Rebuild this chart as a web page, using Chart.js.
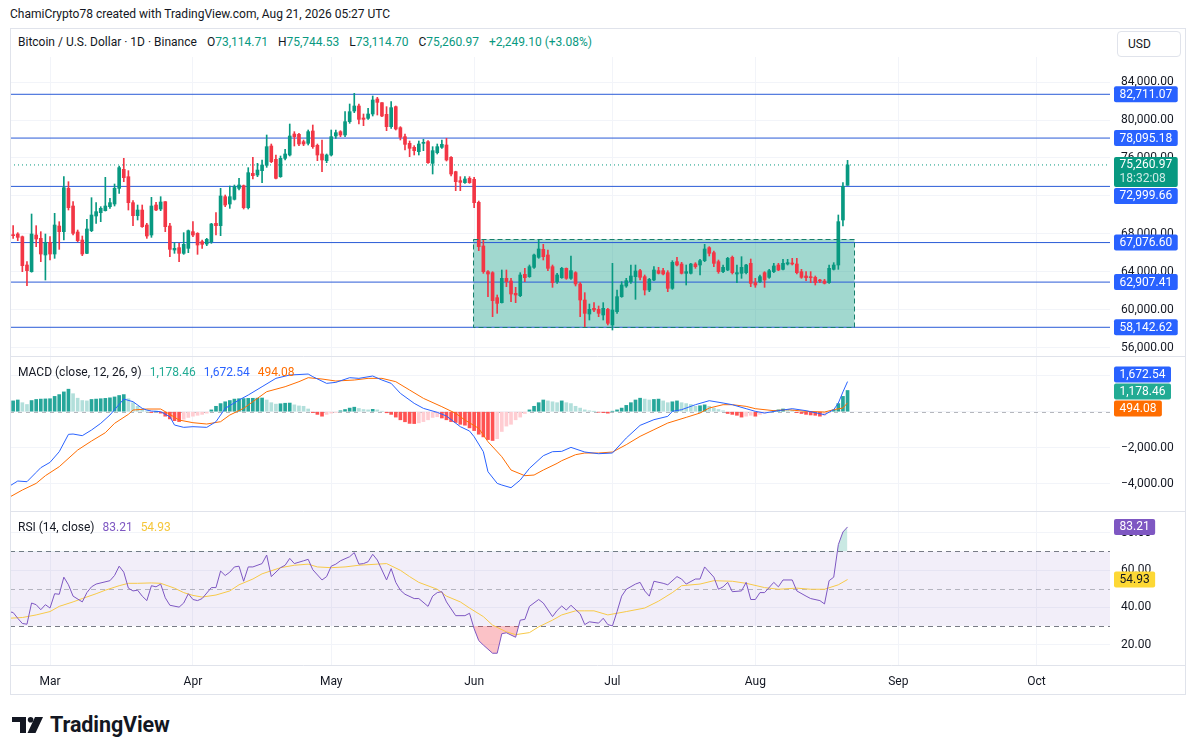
<!DOCTYPE html>
<html>
<head>
<meta charset="utf-8">
<script src="https://cdn.jsdelivr.net/npm/chart.js@4.4.1/dist/chart.umd.min.js"></script>
<style>
  html, body { margin: 0; padding: 0; background: #fff; }
  body { width: 1195px; height: 755px; position: relative; overflow: hidden;
         font-family: Roboto, 'Liberation Sans', sans-serif; color: #131722; }
  .txt { position: absolute; white-space: nowrap; font-size: 12px; line-height: 16px; }
  .txt span { margin-left: 8px; }
  #ohlc span { margin-left: 10px; }
  .g { color: #089981; }
  #frame { position: absolute; left: 10px; top: 28px; width: 1176px; height: 667px;
           box-sizing: border-box; border: 1px solid #e0e3eb; pointer-events: none; }
  #chart { position: absolute; left: 10px; top: 57px; }
  #usd { position: absolute; left: 1117px; top: 31px; width: 64px; height: 26px; box-sizing: border-box;
         border: 1px solid #e0e3eb; border-radius: 4px; font-size: 12px; line-height: 24px; padding-left: 10px; }
  #logo { position: absolute; left: 12px; top: 714px; display: flex; align-items: center; }
  #logo b { font-size: 21.5px; font-weight: 700; margin-left: 7px; letter-spacing: -0.1px; line-height: 22px; }
</style>
</head>
<body>
<div class="txt" style="left:10px;top:6px">ChamiCrypto78 created with TradingView.com, Aug 21, 2026 05:27 UTC</div>
<div class="txt" id="ohlc" style="left:18px;top:34px">Bitcoin / U.S. Dollar · 1D · Binance<span>O<i class="g" style="font-style:normal">73,114.71</i></span><span>H<i class="g" style="font-style:normal">75,744.53</i></span><span>L<i class="g" style="font-style:normal">73,114.70</i></span><span>C<i class="g" style="font-style:normal">75,260.97</i></span><span class="g">+2,249.10 (+3.08%)</span></div>
<div id="usd">USD</div>
<canvas id="chart" width="1175" height="638"></canvas>
<div class="txt" style="left:18px;top:364px">MACD (close, 12, 26, 9)<span style="color:#22ab94">1,178.46</span><span style="color:#2962ff">1,672.54</span><span style="color:#ff6d00">494.08</span></div>
<div class="txt" style="left:18px;top:519px">RSI (14, close)<span style="color:#7e57c2">83.21</span><span style="color:#f5c63a">54.93</span></div>
<div id="frame"></div>
<div id="logo">
  <svg width="31" height="16" viewBox="0 0 31 16"><path d="M0 0H14V16H8V5H0Z" fill="#131722"/><circle cx="18.6" cy="2.8" r="2.8" fill="#131722"/><path d="M23 0H31L23.5 16H15.5Z" fill="#131722"/></svg>
  <b>TradingView</b>
</div>
<script>
// daily candles, first one is Feb 21 2026; day numbers are counted from Mar 1
const firstDay = -8
const opens = [
  67873,67979,67697,64710,64007,67873,67522,65765,67100,65870,
  68822,68225,72794,70931,68190,67346,65940,68330,69877,70228,
  70439,70861,71142,72794,74798,74024,71283,69912,70509,68928,
  67873,71037,70615,71388,68822,66292,66538,65940,66467,68225,
  68049,67170,66924,67170,69103,68858,71915,71142,71634,72794,
  73076,70755,74376,74200,74657,75220,77258,75852,74024,75958,
  76309,78524,78488,77715,77540,78840,77329,76415,75712,76309,
  78313,78770,78418,79824,80949,81476,80211,80176,80633,82214,
  81828,80597,79297,81406,79192,78243,77540,77118,76661,77540,
  77715,75431,76555,77118,77364,76063,74552,73603,73392,73849,
  73743,71318,66715,64008,63903,61267,60740,63305,63024,61723,
  61478,63727,63481,64465,65520,66363,65766,64536,62954,63375,
  64360,63305,63903,62708,61021,59545,60142,60037,59439,60037,
  58386,59791,61372,62497,62954,63481,64114,63481,62075,63129,
  64114,64114,63903,62251,65063,64817,63833,63833,64817,64711,
  65168,66539,66012,65063,64008,64184,65520,63762,63833,63903,
  64887,62848,62954,63903,63411,64008,64711,64254,64817,64887,
  64817,64008,63551,63481,63411,63129,63024,62848,64254,64711,
  69457,73114.71]
const highs = [
  68858,68119,67768,65061,70088,68858,68225,67979,67697,70158,
  69279,74024,73497,71388,68400,67768,69525,71810,71283,70861,
  73954,71740,73251,75149,75958,74657,71494,71037,71037,69103,
  71845,71318,71915,71400,69103,67065,66995,68119,68400,69279,
  68119,67346,67522,69103,70228,72794,72091,73041,73146,73849,
  73146,74974,76063,75431,75782,78418,77469,76309,76204,76907,
  79578,78770,78594,77891,78946,79473,77469,77891,76415,78946,
  78946,78875,80879,81687,82812,81687,80633,81230,82531,82390,
  81850,81406,81933,81476,79297,78524,77786,77294,77786,77961,
  77821,77188,77469,77891,78067,76134,74600,74024,74024,74024,
  73954,71459,67348,64114,64008,61548,64184,64184,63305,62356,
  63903,64360,64711,65871,67348,66891,66293,64711,63833,64465,
  64400,65660,64008,62848,61794,60599,60740,60388,60740,60142,
  64887,62075,62954,63305,64711,64711,64254,63657,63305,64536,
  64465,64360,64114,65168,65520,64993,64711,64887,64957,65309,
  66891,66644,66188,65239,64711,65520,65660,64711,65590,64781,
  65344,63305,63657,64008,64254,64887,64887,65309,65309,65414,
  65414,64254,64008,64008,63551,63200,63200,64711,64957,69984,
  73393,75744.53]
const lows = [
  67522,67276,64007,62531,63950,66643,65061,63128,65237,65413,
  66362,67346,70509,67873,67170,65694,65900,68225,69103,69279,
  70400,70685,70931,72267,73497,70509,68858,69455,68682,67522,
  67627,70439,70439,68225,65589,65940,65061,65835,66011,67697,
  65835,66467,66749,66995,67873,67803,70861,70685,71564,72618,
  70615,70615,73779,74024,73392,75009,75501,73779,73954,75782,
  76204,77258,77294,77294,77364,77012,75712,74552,75501,76204,
  78067,78243,78243,79649,80773,79578,79402,80070,80422,80527,
  80352,78875,79121,78946,77891,76837,76134,76309,76309,76766,
  75431,74306,76415,77012,75677,74095,72548,72548,73322,73322,
  70755,66221,63833,61372,59263,59615,60700,62427,60845,60740,
  61372,62954,63411,64360,65414,65239,64114,62356,62778,63305,
  63200,63200,62497,59263,58210,58912,59791,59263,58912,58386,
  57857,59615,61302,62356,62778,61091,63129,61548,61899,63059,
  63762,63657,61899,62145,64606,63762,62602,63762,64360,63657,
  65063,65660,64536,63833,63903,64114,63762,62848,63305,63762,
  62427,62356,62848,62356,63305,63903,64114,64184,64711,64711,
  63762,63305,63059,62848,62602,62848,62708,62778,64184,64254,
  68824,73114.70]
const closes = [
  67803,67627,64640,64112,67979,67452,65870,67065,65870,68928,
  68225,72865,70755,68049,67276,65870,68506,69982,70334,70685,
  70931,71283,72794,74974,73919,71283,69912,70509,68752,67768,
  70931,70509,71353,68752,66362,66467,65940,66889,68330,67873,
  66819,66889,67416,69033,68858,71986,71037,71915,72970,73146,
  70755,74446,74130,74728,75255,77188,75606,73849,75958,76415,
  78313,78243,77469,77469,78770,77188,76309,75782,76309,78243,
  78664,78418,79824,80879,81476,80070,80070,80633,82109,81863,
  80422,79297,81301,79051,78172,77434,77012,76766,77469,77645,
  75501,76766,77188,77434,75782,74306,73497,73427,73779,73392,
  71283,66643,64008,63762,60950,60669,63305,62954,61653,61548,
  63657,63375,64536,65766,66399,65590,64360,62848,63657,64360,
  63305,64114,62708,61021,59615,60037,59966,59615,60142,58561,
  59966,61372,62602,63059,63551,64078,63411,62075,63200,64184,
  63833,63762,62251,64993,64711,63833,64008,64817,64536,65168,
  66399,65942,64887,64008,64465,65414,63903,63903,64465,64711,
  62778,62602,63481,63129,64114,64606,64184,64887,64957,64817,
  63903,63411,63375,63375,62848,63024,62778,64360,64711,69281,
  73011.87,75260.97]

// drawn horizontal levels and the range rectangle
const levels = [82711.07, 78095.18, 72999.66, 67076.60, 62907.41, 58142.62]
const lastPrice = 75260.97
const lastTime = '18:32:08'
const boxDays = [91.85, 174.5]
const boxPrices = [67420, 58142.62]

// MACD (12, 26, 9): histogram per candle, lines read at the listed days
const macdHist = [
  600,650,500,400,620,680,700,710,720,850,
  950,1100,1250,1000,750,620,600,680,700,720,
  740,770,820,900,950,720,500,300,150,50,
  -50,20,-80,-250,-400,-500,-550,-420,-320,-250,
  -200,-150,-80,100,300,450,550,620,700,720,
  730,740,745,750,760,650,500,420,440,470,
  480,380,320,300,150,-50,-150,-250,-150,-80,
  -40,50,120,200,250,180,120,100,130,100,
  20,-60,-150,-300,-450,-560,-650,-660,-620,-550,
  -450,-320,-280,-350,-450,-550,-600,-700,-750,-900,
  -1050,-1250,-1400,-1550,-1600,-1500,-1100,-800,-700,-450,
  -300,-100,100,300,500,650,600,550,500,600,
  500,450,300,200,100,50,10,-30,-50,-80,
  20,100,200,350,500,650,750,700,650,680,
  700,600,500,550,600,500,450,400,300,330,
  380,300,200,120,50,-100,-150,-200,-300,-250,
  -200,-250,-150,-80,-30,60,100,150,120,80,
  -50,-100,-150,-180,-200,-250,-200,-60,100,450,
  850,1178.46]
const macdDays = [-9,-7,-5,-3,-2,0,2,4,5,7,9,11,13,15,16,18,20,21,22,24,26,27,29,31,34,36,38,41,43,46,
  49,52,56,57,60,62,65,67,70,72,74,76,79,81,84,86,89,91,92,94,95,97,98,100,102,104,107,109,111,113,
  116,119,122,125,128,131,134,135,137,140,143,146,148,151,153,155,158,161,164,168,170,171,172,173]
const macdLine = [-4167,-3852,-3889,-3371,-3111,-2815,-2222,-1259,-1241,-1333,-1019,-648,-185,407,704,556,185,93,37,0,
  -278,-741,-870,-833,-870,-556,185,648,926,1389,1852,2037,2093,1945,1574,1630,1889,1852,1982,1759,
  1574,1019,463,185,-37,-241,-833,-1074,-1389,-2222,-3334,-3982,-4074,-4223,-3797,-3148,-2445,-2222,-2204,-1982,
  -2241,-2334,-2296,-1463,-759,-444,-259,19,111,389,611,482,389,167,19,-74,56,167,56,-167,
  111,480,1100,1672.54]
const signalDays = [-9,-6,-3,-1,2,6,9,12,14,17,18,21,24,26,28,31,34,37,39,42,44,47,51,54,56,59,62,66,69,72,
  75,78,81,85,88,90,93,95,98,100,103,105,107,110,111,114,116,119,122,125,128,131,134,138,141,143,146,148,151,153,
  157,160,164,168,170,172,173]
const signalLine = [-4778,-4352,-3982,-3556,-3056,-2130,-1630,-1167,-648,-148,93,148,148,-148,-463,-611,-685,-556,-185,185,
  556,1111,1389,1667,1889,1815,1704,1759,1852,1852,1667,1204,741,278,-93,-463,-926,-1667,-2500,-3241,
  -3556,-3519,-3241,-2871,-2722,-2389,-2296,-2296,-2241,-1833,-1370,-1000,-630,-315,-74,204,389,389,296,167,
  56,111,19,-19,111,204,494.08]

// RSI (14) and its moving average
const rsiDays = [-9,-8,-7,-6,-5,-4,-3,-2,-1,0,1,2,3,4,5,7,8,9,10,13,14,15,16,17,18,19,20,21,22,23,
  24,25,26,28,29,30,31,32,33,35,36,37,38,39,40,41,42,43,44,46,47,48,50,51,52,53,55,56,57,59,
  60,61,62,63,65,66,67,68,69,70,71,73,74,75,76,77,79,80,82,83,84,85,86,88,90,91,92,93,94,96,
  97,98,99,101,102,103,104,106,107,109,110,111,112,113,115,116,117,119,120,121,122,123,124,125,127,128,129,130,131,133,
  134,136,137,138,140,141,142,144,145,146,147,148,150,151,152,153,154,155,157,158,159,161,162,164,165,167,168,169,170,171,
  172,173]
const rsiLine = [37.7,37.2,34.1,31.3,30.9,42.3,41.4,38.7,41.4,39.6,47.3,47.0,56.2,52.1,46.0,42.9,47.9,51.0,52.5,54.3,57.1,62.1,58.9,50.3,48.8,49.2,46.0,43.6,51.6,51.0,
  52.5,45.1,41.1,40.1,42.3,47.3,44.2,43.6,44.7,50.6,50.6,59.5,57.1,58.9,61.7,62.1,54.0,61.7,61.7,63.5,68.1,56.5,61.3,62.6,66.3,63.5,65.0,65.8,60.2,54.7,
  56.5,62.1,63.2,65.0,67.2,69.4,63.2,63.5,64.5,68.5,65.4,54.7,60.8,53.4,49.2,47.0,44.7,44.7,40.5,46.0,47.9,48.4,42.9,35.5,35.5,36.8,28.5,22.1,19.7,15.3,
  15.3,25.8,26.3,23.9,33.1,33.5,40.5,44.2,42.3,35.0,38.3,40.7,38.5,41.1,36.5,30.7,32.2,31.5,34.1,30.7,30.0,37.7,46.0,49.7,52.5,53.4,48.8,46.0,54.0,52.9,
  52.1,56.5,55.2,52.5,55.2,55.2,61.7,56.2,49.7,51.0,53.4,48.4,48.8,53.4,44.2,44.2,47.9,47.9,53.4,51.0,54.7,54.7,48.8,46.0,44.7,43.6,41.8,54.3,56.2,73.7,
  80.5,83.21]
const rsiMaDays = [-9,-6,-3,0,2,5,7,10,12,15,17,19,22,24,27,29,31,33,36,39,41,44,46,50,53,56,58,61,64,67,
  71,73,76,78,80,84,86,89,91,94,96,99,101,104,106,109,111,114,116,118,121,125,129,132,135,137,141,144,148,151,
  155,158,162,165,168,171,173]
const rsiMa = [34.1,34.5,35.9,37.7,40.5,42.9,44.7,47.3,49.2,51.6,52.9,52.9,53.1,52.9,50.3,47.9,46.4,45.5,46.6,48.8,52.1,55.2,58.0,61.3,62.6,63.2,61.7,61.3,61.7,62.6,
  63.2,63.5,59.9,56.5,53.4,49.7,46.0,42.9,39.6,35.0,30.4,26.8,25.3,26.4,29.5,33.1,35.9,38.1,38.1,38.1,35.9,37.7,39.6,43.3,47.9,51.6,52.5,54.3,54.0,52.9,
  50.6,49.7,50.3,49.7,49.7,52.1,54.93]

// axis labels
const monthStarts = [0, 31, 61, 92, 122, 153, 184, 214]
const monthNames = ['Mar', 'Apr', 'May', 'Jun', 'Jul', 'Aug', 'Sep', 'Oct']
const priceTicks = [56000, 60000, 64000, 68000, 72000, 76000, 80000, 84000]
const macdTicks = [2000, 0, -2000, -4000]
const rsiTicks = [20, 40, 60, 80]

const UP = '#089981', DOWN = '#f23645'
const X_MIN = -8.68, X_MAX = 229.93

Chart.defaults.font.family = 'Roboto'
Chart.defaults.font.size = 12
Chart.defaults.color = '#131722'

const days = opens.map((o, i) => firstDay + i)
const candleColors = opens.map((o, i) => closes[i] >= o ? UP : DOWN)
const pts = (xs, ys) => xs.map((x, i) => ({x: x, y: ys[i]}))
const histColors = macdHist.map((v, i) => {
  const prev = i ? macdHist[i - 1] : v
  if (v >= 0) return v >= prev ? '#26a69a' : '#b2dfdb'
  return v <= prev ? '#ff5252' : '#ffcdd2'
})
const fmt2 = v => v.toLocaleString('en-US', {minimumFractionDigits: 2, maximumFractionDigits: 2}).replace('-', '\u2212')

const datasets = [
  {type: 'bar', data: days.map((d, i) => ({x: d, y: [lows[i], highs[i]]})), backgroundColor: candleColors,
    barThickness: 1, grouped: false, yAxisID: 'yPrice', order: 1},
  {type: 'bar', data: days.map((d, i) => ({x: d, y: [opens[i], closes[i]]})), backgroundColor: candleColors,
    barThickness: 3, minBarLength: 1, grouped: false, yAxisID: 'yPrice', order: 0},
  {type: 'line', data: [{x: X_MIN, y: lastPrice}, {x: X_MAX, y: lastPrice}], borderColor: UP, borderWidth: 1,
    borderDash: [1, 3], pointRadius: 0, yAxisID: 'yPrice', order: 5},
  {type: 'bar', data: days.map((d, i) => ({x: d, y: macdHist[i]})), backgroundColor: histColors,
    barThickness: 3, grouped: false, yAxisID: 'yMacd', order: 2},
  {type: 'line', data: pts(signalDays, signalLine), borderColor: '#ff6d00', borderWidth: 1, pointRadius: 0, yAxisID: 'yMacd', order: 1},
  {type: 'line', data: pts(macdDays, macdLine), borderColor: '#2962ff', borderWidth: 1, pointRadius: 0, yAxisID: 'yMacd', order: 0},
  {type: 'line', data: pts(rsiDays, rsiLine), borderWidth: 0, pointRadius: 0, yAxisID: 'yRsi', order: 4,
    fill: {target: {value: 30}, above: 'rgba(0,0,0,0)', below: 'rgba(242,54,69,0.3)'}},
  {type: 'line', data: pts(rsiDays, rsiLine), borderWidth: 0, pointRadius: 0, yAxisID: 'yRsi', order: 4,
    fill: {target: {value: 70}, above: 'rgba(8,153,129,0.22)', below: 'rgba(0,0,0,0)'}},
  {type: 'line', data: pts(rsiMaDays, rsiMa), borderColor: '#f7c948', borderWidth: 1, pointRadius: 0, yAxisID: 'yRsi', order: 1},
  {type: 'line', data: pts(rsiDays, rsiLine), borderColor: '#7e57c2', borderWidth: 1, pointRadius: 0, yAxisID: 'yRsi', order: 0}
]
levels.forEach(l => datasets.push({type: 'line', data: [{x: X_MIN, y: l}, {x: X_MAX, y: l}],
  borderColor: '#2a5bd7', borderWidth: 1, pointRadius: 0, yAxisID: 'yPrice', order: 6}))

// no label overflow padding: the panes must fill the canvas exactly
function noPad(a) { a.paddingTop = 0; a.paddingBottom = 0; a.paddingLeft = 0; a.paddingRight = 0 }

function yAxis(weight, min, max, ticks) {
  return {
    type: 'linear', position: 'right', stack: 'panes', stackWeight: weight, min: min, max: max,
    afterBuildTicks: a => { a.ticks = ticks.map(v => ({value: v})) },
    afterFit: a => { a.width = 75; noPad(a) },
    ticks: {callback: v => fmt2(v), padding: 11, crossAlign: 'near'},
    grid: {color: '#f2f4f9', drawTicks: false},
    border: {display: false}
  }
}

function drawTags(ctx, tags, left, centered) {
  ctx.font = '12px Roboto'
  tags.forEach(t => { t.h = t.lines.length > 1 ? 30 : 16; t.top = t.y - 8 })
  tags.sort((a, b) => a.top - b.top)
  if (centered) {
    const total = tags.reduce((s, t) => s + t.h + 1, -1)
    let top = tags.reduce((s, t) => s + t.y, 0) / tags.length - total / 2
    tags.forEach(t => { t.top = top; top += t.h + 1 })
  } else {
    for (let i = 1; i < tags.length; i++) {
      const p = tags[i - 1]
      if (tags[i].top < p.top + p.h + 1) tags[i].top = p.top + p.h + 1
    }
  }
  tags.forEach(t => {
    const w = Math.max(...t.lines.map(s => ctx.measureText(s).width)) + 11
    ctx.fillStyle = t.bg
    ctx.beginPath()
    ctx.roundRect(left, t.top, w, t.h, 2)
    ctx.fill()
    ctx.textBaseline = 'middle'
    ctx.textAlign = 'left'
    t.lines.forEach((s, k) => {
      ctx.fillStyle = k ? 'rgba(255,255,255,0.8)' : t.fg
      ctx.fillText(s, left + 5.5, t.top + 8.5 + k * 14)
    })
  })
}

const overlay = {
  id: 'overlay',
  beforeDatasetsDraw(chart) {
    const {ctx, chartArea: a, scales: s} = chart
    ctx.save()
    const bx1 = s.x.getPixelForValue(boxDays[0]), bx2 = s.x.getPixelForValue(boxDays[1])
    const by1 = s.yPrice.getPixelForValue(boxPrices[0]), by2 = s.yPrice.getPixelForValue(boxPrices[1])
    ctx.fillStyle = 'rgba(8,153,129,0.38)'
    ctx.fillRect(bx1, by1, bx2 - bx1, by2 - by1)

    const r70 = s.yRsi.getPixelForValue(70), r50 = s.yRsi.getPixelForValue(50), r30 = s.yRsi.getPixelForValue(30)
    ctx.fillStyle = 'rgba(126,87,194,0.1)'
    ctx.fillRect(a.left, r70, a.width, r30 - r70)
    ctx.lineWidth = 1
    ctx.setLineDash([5, 4])
    ctx.strokeStyle = '#787b86'
    ;[r70, r30].forEach(y => { ctx.beginPath(); ctx.moveTo(a.left, Math.round(y) + 0.5); ctx.lineTo(a.right, Math.round(y) + 0.5); ctx.stroke() })
    ctx.strokeStyle = 'rgba(120,123,134,0.5)'
    ctx.beginPath(); ctx.moveTo(a.left, Math.round(r50) + 0.5); ctx.lineTo(a.right, Math.round(r50) + 0.5); ctx.stroke()
    const z = Math.round(s.yMacd.getPixelForValue(0)) + 0.5
    ctx.setLineDash([4, 4])
    ctx.strokeStyle = 'rgba(120,123,134,0.55)'
    ctx.beginPath(); ctx.moveTo(a.left, z); ctx.lineTo(a.right, z); ctx.stroke()
    ctx.restore()
  },
  afterDatasetsDraw(chart) {
    const {ctx, scales: s} = chart
    const bx1 = s.x.getPixelForValue(boxDays[0]), bx2 = s.x.getPixelForValue(boxDays[1])
    const by1 = s.yPrice.getPixelForValue(boxPrices[0]), by2 = s.yPrice.getPixelForValue(boxPrices[1])
    ctx.save()
    ctx.setLineDash([5, 3])
    ctx.strokeStyle = '#16806d'
    ctx.lineWidth = 1
    ctx.strokeRect(Math.round(bx1) + 0.5, Math.round(by1) + 0.5, Math.round(bx2 - bx1), Math.round(by2 - by1))
    ctx.restore()
  },
  afterDraw(chart) {
    const {ctx, chartArea: a, scales: s, width} = chart
    ctx.save()
    ctx.strokeStyle = '#e0e3eb'
    ctx.lineWidth = 1
    ;[s.yPrice.bottom, s.yMacd.bottom, s.yRsi.bottom].forEach(y => {
      ctx.beginPath(); ctx.moveTo(0, Math.round(y) + 0.5); ctx.lineTo(width, Math.round(y) + 0.5); ctx.stroke()
    })
    const left = a.right + 4
    const priceTags = levels.map(l => ({y: s.yPrice.getPixelForValue(l), lines: [fmt2(l)], bg: '#2962ff', fg: '#fff'}))
    priceTags.push({y: s.yPrice.getPixelForValue(lastPrice), lines: [fmt2(lastPrice), lastTime], bg: UP, fg: '#fff'})
    drawTags(ctx, priceTags, left, false)
    const m = macdLine.length - 1, g = signalLine.length - 1, h = macdHist.length - 1
    drawTags(ctx, [
      {y: s.yMacd.getPixelForValue(macdLine[m]), lines: [fmt2(macdLine[m])], bg: '#2962ff', fg: '#fff'},
      {y: s.yMacd.getPixelForValue(macdHist[h]), lines: [fmt2(macdHist[h])], bg: '#22ab94', fg: '#fff'},
      {y: s.yMacd.getPixelForValue(signalLine[g]), lines: [fmt2(signalLine[g])], bg: '#ff6d00', fg: '#fff'}
    ], left, true)
    const r = rsiLine.length - 1, q = rsiMa.length - 1
    drawTags(ctx, [
      {y: s.yRsi.getPixelForValue(rsiLine[r]), lines: [fmt2(rsiLine[r])], bg: '#7e57c2', fg: '#fff'},
      {y: s.yRsi.getPixelForValue(rsiMa[q]), lines: [fmt2(rsiMa[q])], bg: '#fdd835', fg: '#131722'}
    ], left, false)
    ctx.restore()
  }
}

new Chart(document.getElementById('chart'), {
  type: 'bar',
  data: {datasets: datasets},
  options: {
    responsive: false,
    animation: false,
    events: [],
    layout: {padding: 0},
    plugins: {legend: {display: false}, tooltip: {enabled: false}},
    scales: {
      x: {
        type: 'linear', min: X_MIN, max: X_MAX, offset: false,
        afterBuildTicks: a => { a.ticks = monthStarts.map(v => ({value: v})) },
        afterFit: a => { a.height = 30; noPad(a) },
        ticks: {callback: v => monthNames[monthStarts.indexOf(v)], autoSkip: false, maxRotation: 0, padding: 10},
        grid: {color: '#f2f4f9', drawTicks: false, offset: false},
        border: {display: false}
      },
      yPrice: yAxis(299, 55116, 86643, priceTicks),
      yMacd: yAxis(155, -5517, 3094, macdTicks),
      yRsi: yAxis(154, 8.98, 91.77, rsiTicks)
    }
  },
  plugins: [overlay]
})
</script>
</body>
</html>
